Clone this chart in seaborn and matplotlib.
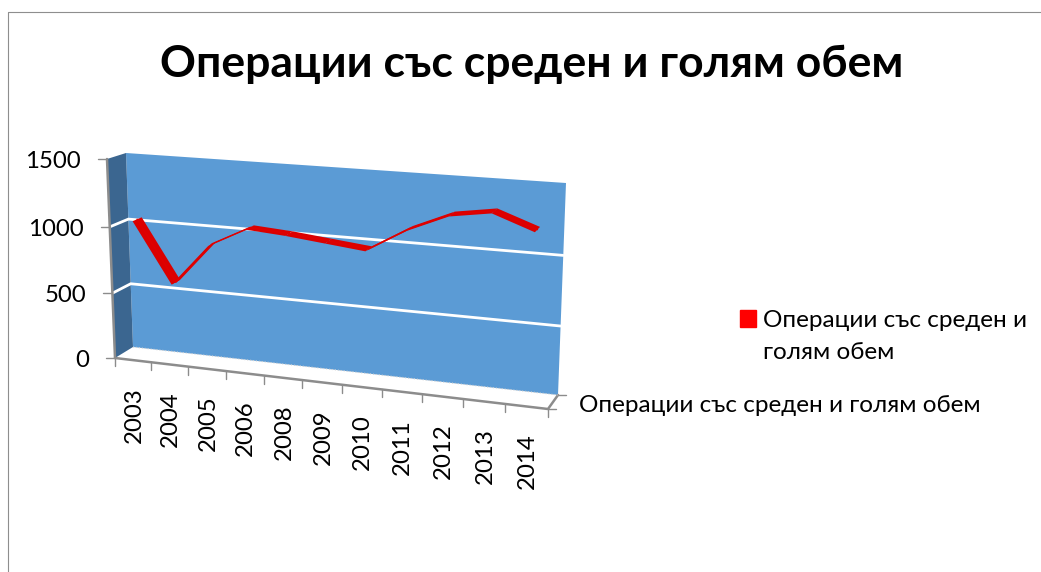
import numpy as np
import pandas as pd
import matplotlib.pyplot as plt
import seaborn as sns
from matplotlib.patches import Patch

years = ['2003', '2004', '2005', '2006', '2008', '2009', '2010', '2011', '2012', '2013', '2014']
values = [1040, 590, 905, 1050, 1030, 1000, 970, 1140, 1265, 1310, 1205]
value_ticks = [0, 500, 1000, 1500]
series_name = 'Операции със среден и голям обем'
legend_name = 'Операции със среден и\nголям обем'

VMAX = 1500
N = len(years)

# corners in pixels: bottom-left, bottom-right, top-right, top-left
BACK = [(133, 347), (558, 395), (566, 183), (126, 153)]
FRONT = [(115, 358), (548, 409), (556, 193), (107, 159)]
WALL_BLUE = '#5B9BD5'
SIDE_BLUE = '#3B6690'
AXIS_GRAY = '#8C8C8C'
LABEL_SIZE = 17.3


def homography(corners):
    src = [(0, 0), (1, 0), (1, 1), (0, 1)]
    A, b = [], []
    for (s, t), (px, py) in zip(src, corners):
        A.append([s, t, 1, 0, 0, 0, -s * px, -t * px])
        A.append([0, 0, 0, s, t, 1, -s * py, -t * py])
        b += [px, py]
    return np.append(np.linalg.solve(np.array(A, float), np.array(b, float)), 1).reshape(3, 3)


H_back = homography(BACK)
H_front = homography(FRONT)


def apply_h(H, s, t):
    p = H @ np.array([s, t, 1.0])
    return p[:2] / p[2]


def project(u, v, d):
    # u = category position, v = value, d = depth (0 front, 1 back)
    s, t = u / N, v / VMAX
    return (1 - d) * apply_h(H_front, s, t) + d * apply_h(H_back, s, t)


sns.set_theme(style='white')
plt.rcParams['font.family'] = ['Lato', 'Noto Sans', 'DejaVu Sans']

fig = plt.figure(figsize=(10.41, 5.72), dpi=100)
ax = fig.add_axes([0, 0, 1, 1])
ax.set_xlim(0, 1041)
ax.set_ylim(572, 0)
ax.axis('off')

# outer chart frame
ax.plot([8, 8, 1041], [572, 12, 12], color='#8E8E8E', lw=0.8)

# walls
ax.fill(*zip(*BACK), color=WALL_BLUE, lw=0, zorder=1)
side = [project(0, 0, 0), project(0, 0, 1), project(0, VMAX, 1), project(0, VMAX, 0)]
ax.fill(*zip(*side), color=SIDE_BLUE, lw=0, zorder=1)

# gridlines on both walls
for v in value_ticks[1:-1]:
    pts = np.array([project(0, v, 0), project(0, v, 1), project(N, v, 1)])
    ax.plot(pts[:, 0], pts[:, 1], color='white', lw=2.0, zorder=2)

# axes
pts = np.array([project(0, 0, 0), project(0, VMAX, 0)])
ax.plot(pts[:, 0], pts[:, 1], color=AXIS_GRAY, lw=1.8, zorder=3)
pts = np.array([project(0, 0, 0), project(N, 0, 0), project(N, 0, 1)])
ax.plot(pts[:, 0], pts[:, 1], color=AXIS_GRAY, lw=1.8, zorder=3)
pts = np.array([project(0, 0, 1), project(N, 0, 1)])
ax.plot(pts[:, 0], pts[:, 1], color='#D0D0D0', lw=0.8, ls=':', zorder=3)

for v in value_ticks:
    x0, y0 = project(0, v, 0)
    ax.plot([x0 - 9, x0], [y0, y0], color=AXIS_GRAY, lw=1.0, zorder=3)
    ax.text(x0 - 26, y0 + 2.5, str(v), ha='right', va='center', fontsize=LABEL_SIZE, color='black')

for i in range(N + 1):
    x0, y0 = project(i, 0, 0)
    ax.plot([x0, x0], [y0, y0 + 8], color=AXIS_GRAY, lw=1.0, zorder=3)
for d in [0, 1]:
    x0, y0 = project(N, 0, d)
    ax.plot([x0, x0 + 8], [y0, y0], color=AXIS_GRAY, lw=1.0, zorder=3)

for i, year in enumerate(years):
    x0, y0 = project(i + 0.5, 0, 0)
    ax.text(x0 + 1, y0 + 27, year, rotation=90, ha='center', va='top', fontsize=LABEL_SIZE, color='black')

# data ribbon
df = pd.DataFrame({'year': years, 'value': values})
front_edge = np.array([project(i + 0.5, v, 0.25) for i, v in enumerate(values)])
back_edge = np.array([project(i + 0.5, v, 0.75) for i, v in enumerate(values)])
df['sx'] = (front_edge[:, 0] + back_edge[:, 0]) / 2
df['sy'] = (front_edge[:, 1] + back_edge[:, 1]) / 2

for i in range(N - 1):
    quad = [front_edge[i], front_edge[i + 1], back_edge[i + 1], back_edge[i]]
    ax.fill(*zip(*quad), color='#DB0000', lw=0, zorder=4)
sns.lineplot(data=df, x='sx', y='sy', sort=False, estimator=None, color='#E00000', lw=1.1, ax=ax, zorder=5)
ax.set_xlim(0, 1041)
ax.set_ylim(572, 0)
ax.axis('off')

# titles and labels
ax.text(532, 64, series_name, ha='center', va='center', fontsize=32, fontweight='bold', color='black')
ax.text(579, 406, series_name, ha='left', va='center', fontsize=LABEL_SIZE + 0.2, color='black')

leg = ax.legend(handles=[Patch(color='#FF0000', label=legend_name)],
                loc='upper left', bbox_to_anchor=(740 / 1041, 1 - 310 / 572),
                frameon=False, fontsize=LABEL_SIZE + 0.2, labelcolor='black',
                handlelength=0.66, handleheight=0.66,
                handletextpad=0.28, borderpad=0, borderaxespad=0)
for t in leg.get_texts():
    t.set_linespacing(1.64)
# swatch sits beside the first line, not the middle of the label
for h in leg.legend_handles:
    h.set_y(h.get_y() + 13)

plt.savefig('out.png', dpi=100)
